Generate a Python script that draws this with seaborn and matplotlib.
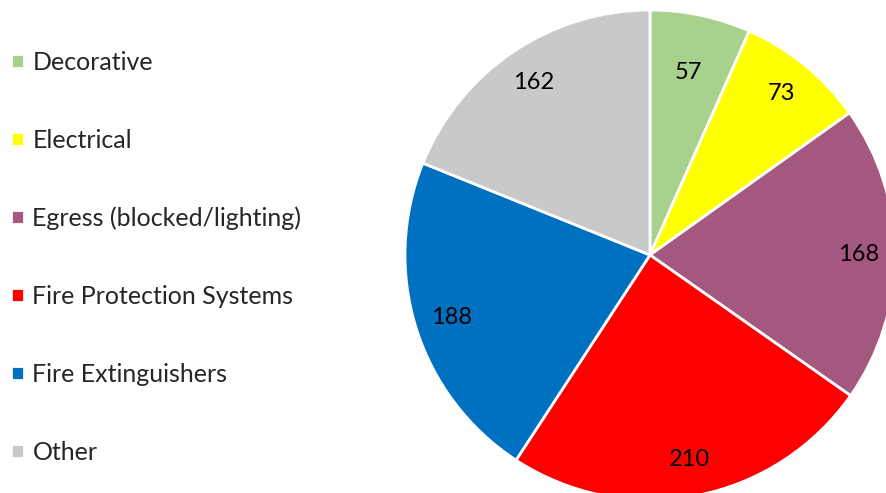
import matplotlib
matplotlib.use("Agg")
import matplotlib.pyplot as plt
import seaborn as sns

sns.set_theme(style="white")
plt.rcParams['font.family'] = ['Lato', 'DejaVu Sans']

categories = ['Decorative', 'Electrical', 'Egress (blocked/lighting)',
              'Fire Protection Systems', 'Fire Extinguishers', 'Other']
counts = [57, 73, 168, 210, 188, 162]
colors = ['#A9D18E', '#FFFF00', '#A5587F', '#FF0000', '#0070C0', '#C9C9C9']

fig = plt.figure(figsize=(8.87, 4.93), dpi=100)
fig.patch.set_facecolor('white')

# pie axes placed so the circle runs off the right/bottom like the original
ax = fig.add_axes([405 / 887, -7 / 493, 490 / 887, 490 / 493])
wedges, texts, autotexts = ax.pie(
    counts, colors=colors, startangle=90, counterclock=False,
    autopct=lambda p: '{:.0f}'.format(p * sum(counts) / 100),
    pctdistance=0.85, radius=1,
    wedgeprops=dict(edgecolor='white', linewidth=2),
    textprops=dict(fontsize=17, color='black'))
# smallest slice label sits a bit further in (excel best fit)
x, y = autotexts[0].get_position()
autotexts[0].set_position((x * 0.76 / 0.85, y * 0.76 / 0.85))
ax.set_xlim(-1, 1)
ax.set_ylim(-1, 1)
ax.set_aspect('equal')
ax.axis('off')

leg = fig.legend(wedges, categories, loc='center left',
                 bbox_to_anchor=(0.0, 0.478), frameon=False,
                 fontsize=18, handlelength=0.5, handleheight=0.5,
                 handletextpad=0.35, labelspacing=2.2,
                 borderpad=0.4, borderaxespad=0.05)

fig.savefig('out.png', dpi=100)
